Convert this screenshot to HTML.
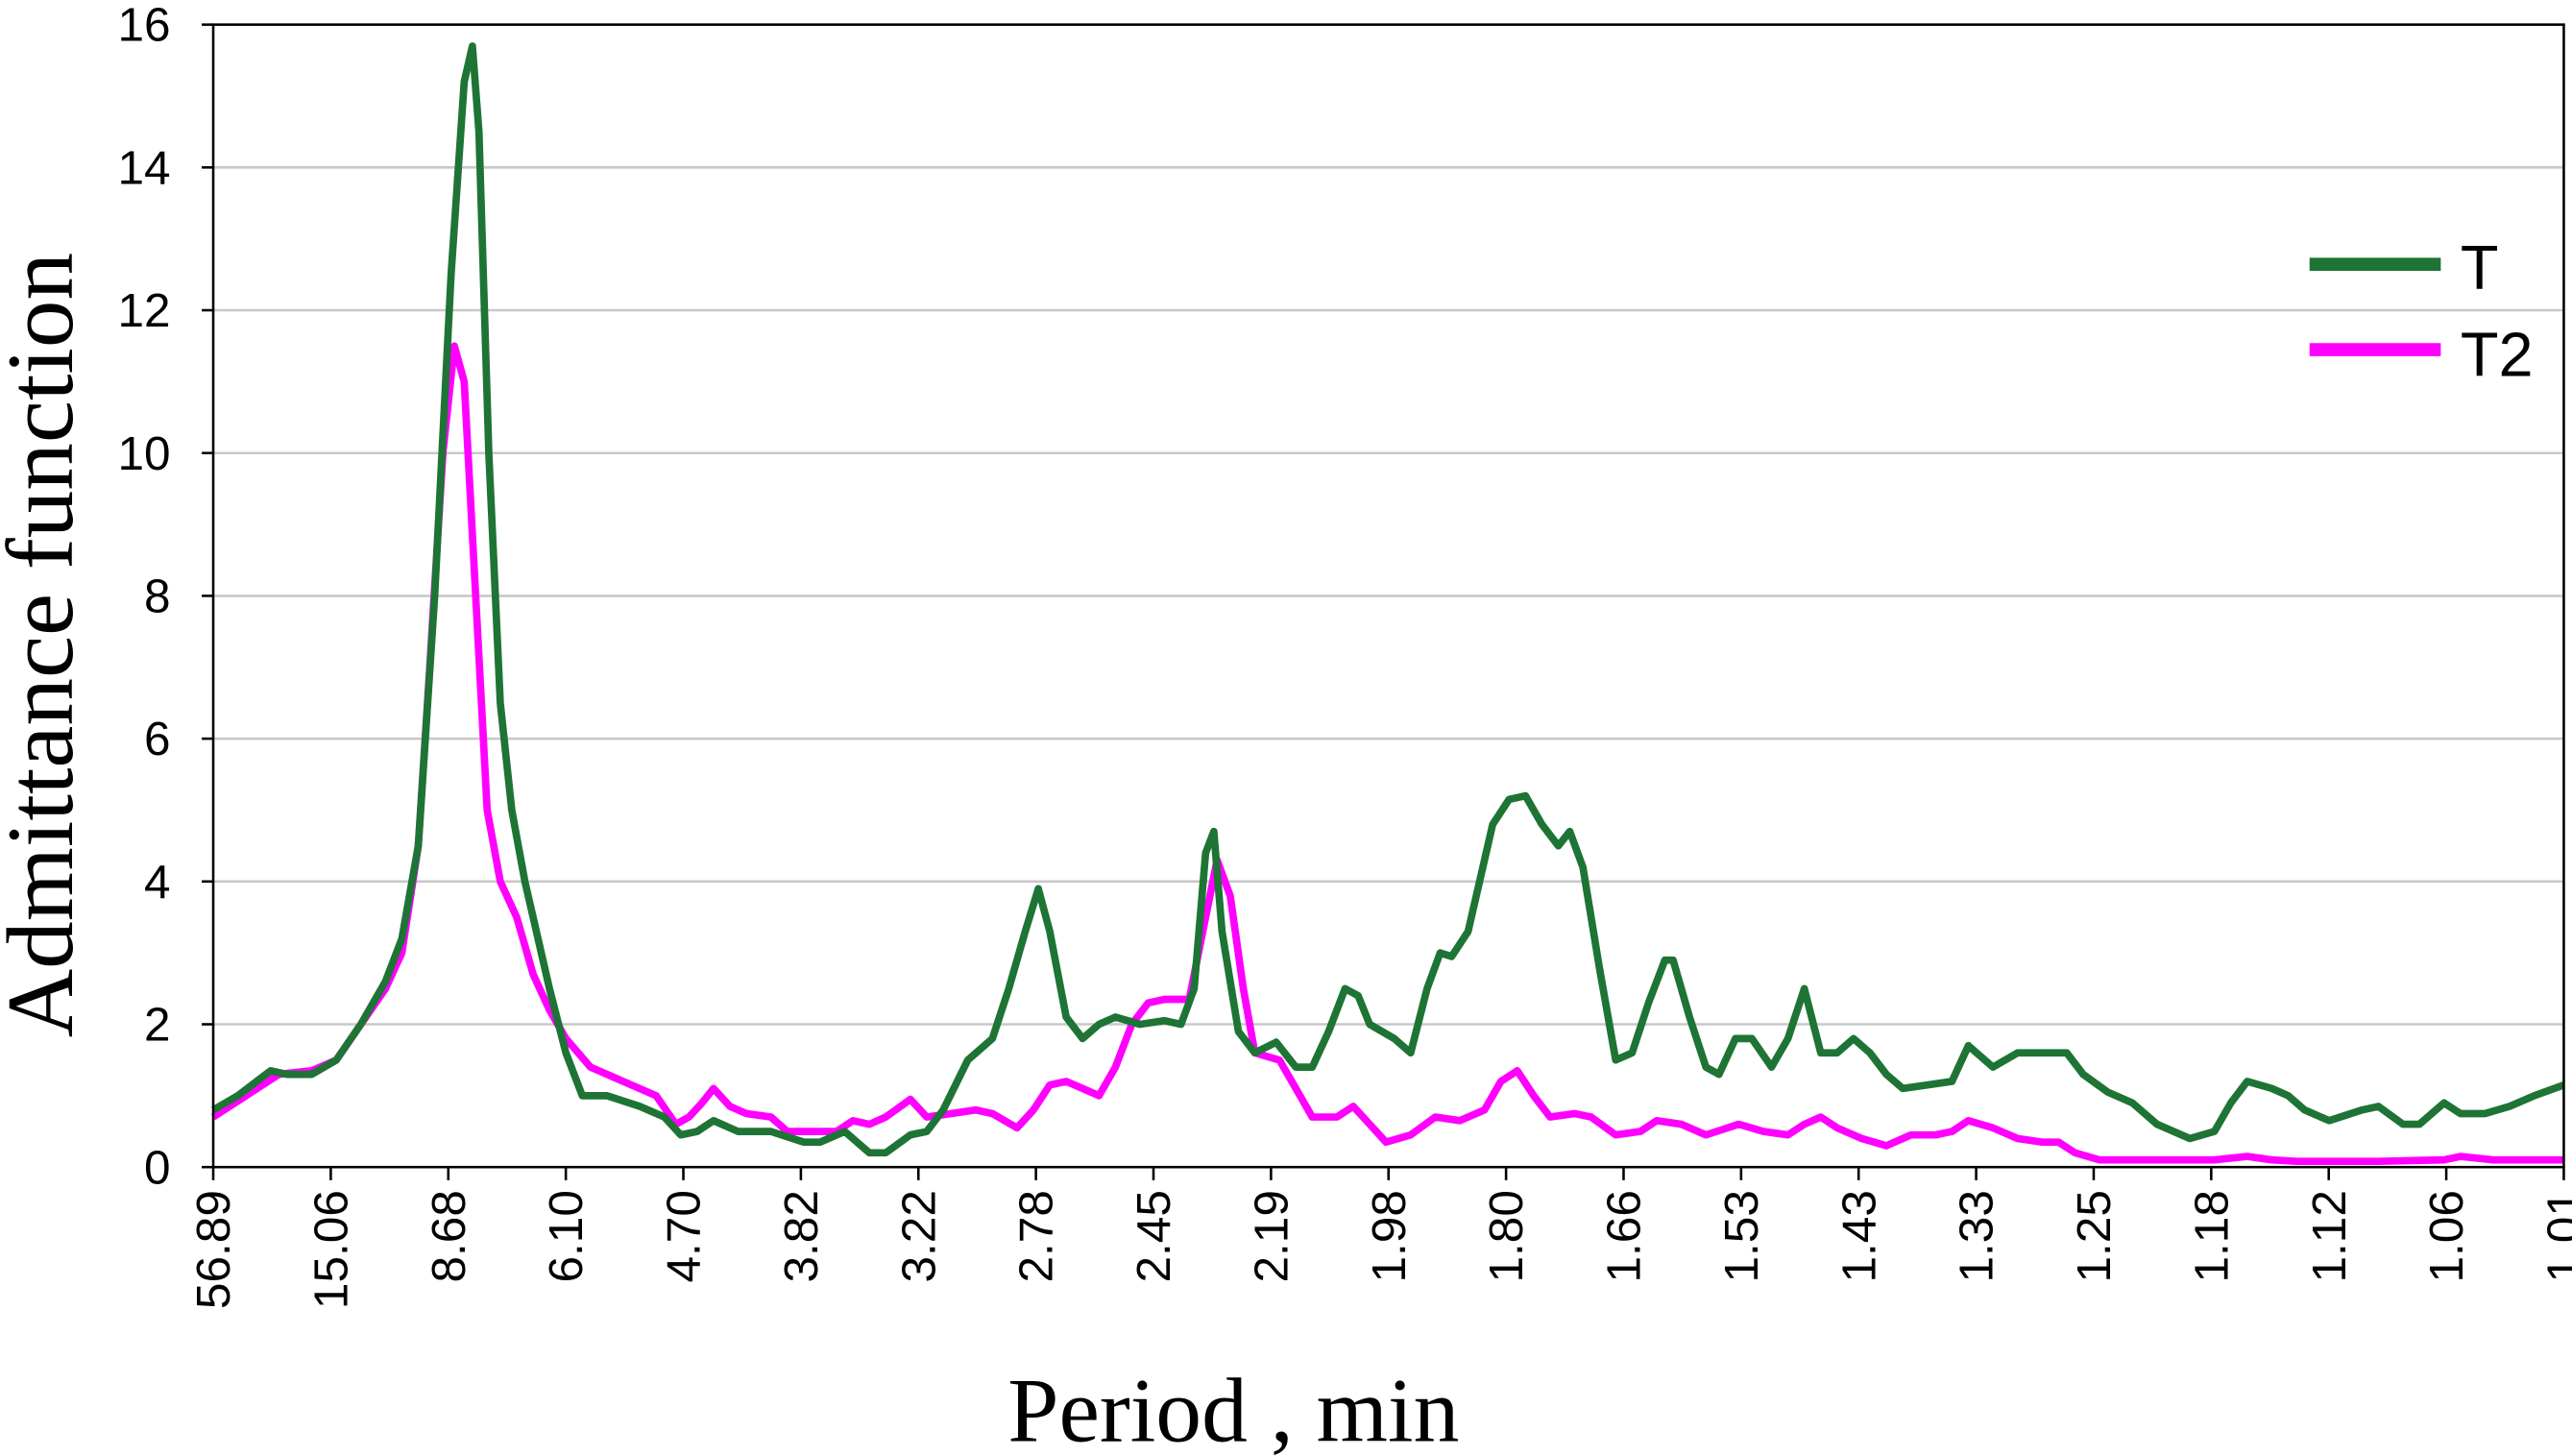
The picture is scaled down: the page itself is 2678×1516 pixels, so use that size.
<!DOCTYPE html>
<html><head><meta charset="utf-8"><style>
html,body{margin:0;padding:0;background:#fff;}
svg{display:block;}
</style></head><body>
<svg id="chart" width="2678" height="1516" viewBox="0 0 1568 887" preserveAspectRatio="none" xmlns="http://www.w3.org/2000/svg">
<g id="grid"></g>
<g id="series"></g>
<rect x="130" y="15" width="1433" height="696" fill="none" stroke="#000" stroke-width="1.5"/>
<g id="yticks"></g>
<g id="xticks"></g>
<text transform="translate(44,393) rotate(-90)" text-anchor="middle" font-family="Liberation Serif, serif" font-size="58">Admittance function</text>
<text x="752" y="878" text-anchor="middle" font-family="Liberation Serif, serif" font-size="56">Period , min</text>
<g>
<line x1="1408" y1="161" x2="1488" y2="161" stroke="#1e7434" stroke-width="8"/>
<text x="1500" y="176" font-family="Liberation Sans, sans-serif" font-size="38">T</text>
<line x1="1408" y1="213" x2="1488" y2="213" stroke="#ff00ff" stroke-width="8"/>
<text x="1500" y="229" font-family="Liberation Sans, sans-serif" font-size="38">T2</text>
</g>
</svg>
<script>
const xTickLabels = ["56.89","15.06","8.68","6.10","4.70","3.82","3.22","2.78","2.45","2.19","1.98","1.80","1.66","1.53","1.43","1.33","1.25","1.18","1.12","1.06","1.01"];
const yTicks = [0,2,4,6,8,10,12,14,16];
const tBins = [0,15,35,45,60,75,90,105,115,125,135,145,153,158,162,168,175,182,190,205,215,225,240,260,275,285,295,305,320,340,360,370,385,400,410,425,435,445,460,475,485,495,503,510,520,530,540,550,565,580,590,598,605,610,615,625,635,648,660,670,680,690,698,705,720,730,740,748,755,765,780,790,800,810,820,827,835,845,855,865,875,885,890,900,910,918,928,938,950,960,970,980,990,1000,1010,1020,1030,1045,1060,1070,1085,1100,1115,1130,1140,1155,1170,1185,1205,1220,1230,1240,1255,1265,1275,1290,1310,1320,1335,1345,1360,1370,1385,1400,1415,1433];
const tVals = [0.8,1.0,1.35,1.3,1.3,1.5,2.0,2.6,3.2,4.5,8,12.5,15.2,15.7,14.5,10,6.5,5.0,4.0,2.5,1.6,1.0,1.0,0.85,0.7,0.45,0.5,0.65,0.5,0.5,0.35,0.35,0.5,0.2,0.2,0.45,0.5,0.8,1.5,1.8,2.5,3.3,3.9,3.3,2.1,1.8,2.0,2.1,2.0,2.05,2.0,2.5,4.4,4.7,3.3,1.9,1.6,1.75,1.4,1.4,1.9,2.5,2.4,2.0,1.8,1.6,2.5,3.0,2.95,3.3,4.8,5.15,5.2,4.8,4.5,4.7,4.2,2.8,1.5,1.6,2.3,2.9,2.9,2.1,1.4,1.3,1.8,1.8,1.4,1.8,2.5,1.6,1.6,1.8,1.6,1.3,1.1,1.15,1.2,1.7,1.4,1.6,1.6,1.6,1.3,1.05,0.9,0.6,0.4,0.5,0.9,1.2,1.1,1.0,0.8,0.65,0.8,0.85,0.6,0.6,0.9,0.75,0.75,0.85,1.0,1.15];
const t2Bins = [0,20,40,60,75,90,105,115,125,132,140,147,153,160,167,175,185,195,205,215,230,250,270,282,290,298,305,315,325,340,350,370,380,390,400,410,425,435,450,465,475,490,500,510,520,530,540,550,560,570,580,595,605,612,620,628,635,650,660,670,685,695,705,715,730,745,760,775,785,795,805,815,830,840,855,870,880,895,910,930,945,960,970,980,990,1005,1020,1035,1050,1060,1070,1085,1100,1115,1125,1135,1150,1170,1220,1240,1255,1270,1320,1360,1370,1390,1433];
const t2Vals = [0.7,1.0,1.3,1.35,1.5,2.0,2.5,3.0,4.5,7,10,11.5,11.0,8,5,4.0,3.5,2.7,2.2,1.8,1.4,1.2,1.0,0.6,0.7,0.9,1.1,0.85,0.75,0.7,0.5,0.5,0.5,0.65,0.6,0.7,0.95,0.7,0.75,0.8,0.75,0.55,0.8,1.15,1.2,1.1,1.0,1.4,2.0,2.3,2.35,2.35,3.5,4.3,3.8,2.5,1.6,1.5,1.1,0.7,0.7,0.85,0.6,0.35,0.45,0.7,0.65,0.8,1.2,1.35,1.0,0.7,0.75,0.7,0.45,0.5,0.65,0.6,0.45,0.6,0.5,0.45,0.6,0.7,0.55,0.4,0.3,0.45,0.45,0.5,0.65,0.55,0.4,0.35,0.35,0.2,0.1,0.1,0.1,0.15,0.1,0.08,0.08,0.1,0.15,0.1,0.1];

const NS="http://www.w3.org/2000/svg";
const X0=130,X1=1563,Y0=711,Y1=15,BINS=1433,YMAX=16;
const xs=b=>X0+(b/BINS)*(X1-X0);
const ys=v=>Y0-(v/YMAX)*(Y0-Y1);
const grid=document.getElementById('grid'),yt=document.getElementById('yticks'),xt=document.getElementById('xticks'),ser=document.getElementById('series');
yTicks.forEach(v=>{
  const y=ys(v);
  if(v>0&&v<YMAX){const g=document.createElementNS(NS,'line');
  
  
  g.setAttribute('x1',X0);g.setAttribute('x2',X1);g.setAttribute('y1',y);g.setAttribute('y2',y);g.setAttribute('stroke','#c8c8c8');g.setAttribute('stroke-width','1.5');grid.appendChild(g);}
  const tk=document.createElementNS(NS,'line');
  
  
  tk.setAttribute('x1',X0-7);tk.setAttribute('x2',X0);tk.setAttribute('y1',y);tk.setAttribute('y2',y);tk.setAttribute('stroke','#000');tk.setAttribute('stroke-width','1.5');yt.appendChild(tk);
  const t=document.createElementNS(NS,'text');
  
  
  t.setAttribute('x',X0-26);t.setAttribute('y',y+10);t.setAttribute('text-anchor','end');t.setAttribute('font-family','Liberation Sans, sans-serif');t.setAttribute('font-size','29');t.textContent=v;yt.appendChild(t);
});
xTickLabels.forEach((lab,i)=>{
  const x=X0+i*(X1-X0)/(xTickLabels.length-1);
  const tk=document.createElementNS(NS,'line');
  
  
  tk.setAttribute('x1',x);tk.setAttribute('x2',x);tk.setAttribute('y1',Y0);tk.setAttribute('y2',Y0+8);tk.setAttribute('stroke','#000');tk.setAttribute('stroke-width','1.5');xt.appendChild(tk);
  const t=document.createElementNS(NS,'text');
  
  
  t.setAttribute('transform','translate('+(x+10)+','+(Y0+14)+') rotate(-90)');t.setAttribute('text-anchor','end');t.setAttribute('font-family','Liberation Sans, sans-serif');t.setAttribute('font-size','29');t.textContent=lab;xt.appendChild(t);
});
function draw(b,v,color,name){
  const p=document.createElementNS(NS,'polyline');
  
  
  const n=Math.min(b.length,v.length);
  const pts=[];for(let i=0;i<n;i++)pts.push(xs(b[i]).toFixed(1)+','+ys(v[i]).toFixed(1));
  p.setAttribute('points',pts.join(' '));
  p.setAttribute('fill','none');p.setAttribute('stroke',color);p.setAttribute('stroke-width','4.5');p.setAttribute('stroke-linejoin','round');
  ser.appendChild(p);
}
draw(t2Bins,t2Vals,'#ff00ff','series-t2-line');
draw(tBins,tVals,'#1e7434','series-t-line');
</script>
</body></html>
